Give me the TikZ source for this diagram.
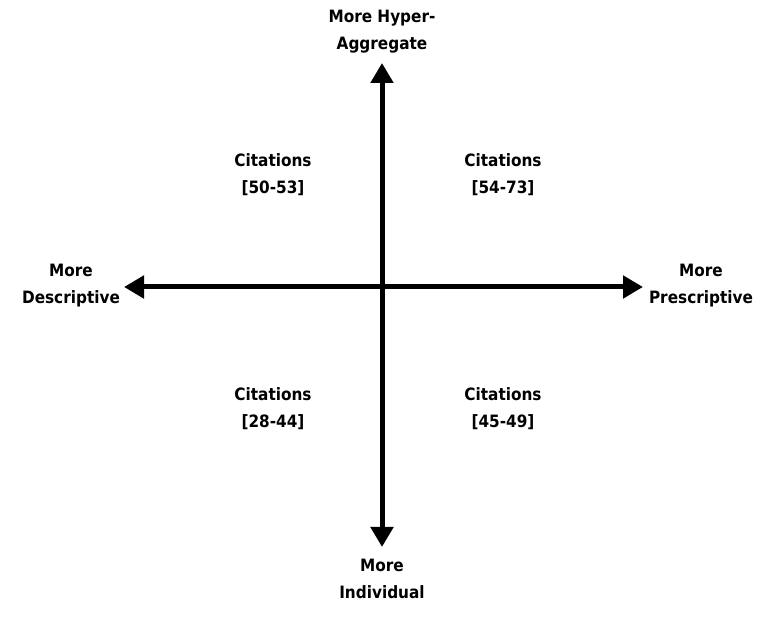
\documentclass[tikz,border=0pt]{standalone}
\usepackage{fontspec}
\setmainfont{DejaVu Sans Condensed}
\usetikzlibrary{arrows.meta}
\begin{document}
\begin{tikzpicture}[x=1pt,y=1pt,
  lab/.style={font=\bfseries\fontsize{17}{27}\selectfont, align=center, inner sep=0pt},
  axis/.style={line width=5pt, {Triangle[length=20pt,width=22pt]}-{Triangle[length=20pt,width=22pt]}}]
\useasboundingbox (0,0) rectangle (772,621);
\coordinate (L) at (124,334);
\coordinate (R) at (643,334);
\coordinate (T) at (382,558);
\coordinate (B) at (382,74);
\draw[axis] (L) -- (R);
\draw[axis] (B) -- (T);
\node[lab] (top) at (382,589) {More Hyper-\\Aggregate};
\node[lab] (bot) at (382,42) {More\\Individual};
\node[lab] (lft) at (71,335) {More\\Descriptive};
\node[lab] (rgt) at (701,335) {More\\Prescriptive};
\node[lab] (q1) at (273,446) {Citations\\{[}50-53{]}};
\node[lab] (q2) at (503,446) {Citations\\{[}54-73{]}};
\node[lab] (q3) at (273,212) {Citations\\{[}28-44{]}};
\node[lab] (q4) at (503,212) {Citations\\{[}45-49{]}};
\end{tikzpicture}
\end{document}
